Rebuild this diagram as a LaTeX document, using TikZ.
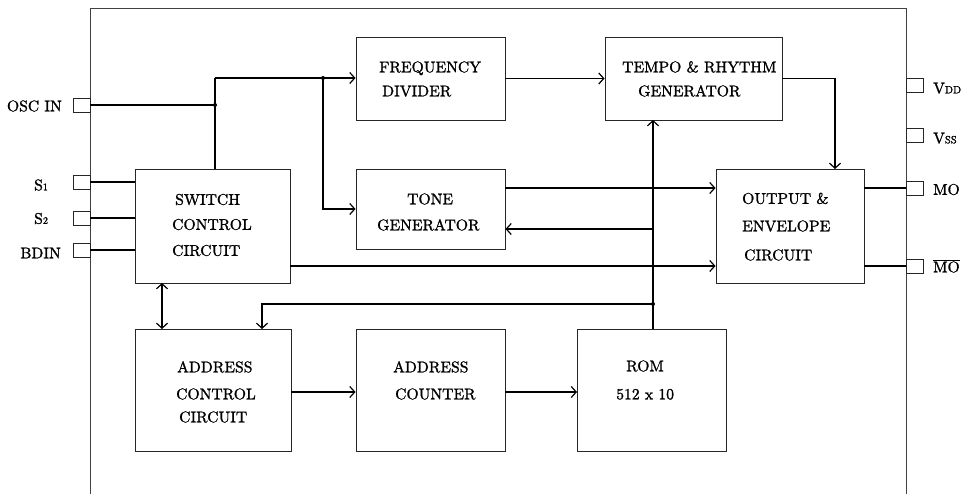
\documentclass[tikz,border=0pt]{standalone}
\usepackage{fontspec}
\usetikzlibrary{arrows.meta,calc}
\newfontfamily\dfont{lmroman10-regular}[Extension=.otf,FakeStretch=1.01,FakeBold=1.3]
\begin{document}
\begin{tikzpicture}[x=1pt,y=-1pt,
  blk/.style={draw=black!85,line width=0.9pt,inner sep=0pt},
  pinbox/.style={draw=black!85,line width=0.9pt,inner sep=0pt,minimum width=17pt,minimum height=14pt},
  txt/.style={anchor=west,inner sep=0pt,text height=10.6pt,text depth=0pt,font=\dfont\fontsize{15.5}{18}\selectfont},
  lbl/.style={inner sep=0pt,text height=10.6pt,text depth=0pt,font=\dfont\fontsize{15.5}{18}\selectfont},
  conn/.style={line width=1.2pt},
  arr/.style={conn,-{Straight Barb[length=5pt,width=11pt]}},
  darr/.style={conn,{Straight Barb[length=5pt,width=11pt]}-{Straight Barb[length=5pt,width=11pt]}},
  dot/.style={circle,fill=black,inner sep=0pt,minimum size=4pt}]
\useasboundingbox (0,0) rectangle (962,494);
\fill[white] (0,0) rectangle (962,494);
% frame
\draw[line width=1pt,black!75] (90,494) -- (90,9) -- (906,9) -- (906,494);
% blocks
\node[blk,minimum width=155pt,minimum height=114pt] (sw) at (212.5,226) {};
\node[blk,minimum width=149pt,minimum height=83pt] (fd) at (430.5,78.5) {};
\node[blk,minimum width=177pt,minimum height=83pt] (tr) at (693.5,78.5) {};
\node[blk,minimum width=149pt,minimum height=80pt] (tg) at (430.5,209) {};
\node[blk,minimum width=148pt,minimum height=114pt] (oe) at (790,226) {};
\node[blk,minimum width=156pt,minimum height=122pt] (ac) at (213,390) {};
\node[blk,minimum width=149pt,minimum height=122pt] (cnt) at (430.5,390) {};
\node[blk,minimum width=149pt,minimum height=122pt] (rom) at (652,390) {};
% block texts
\node[txt] (t1) at (379,67) {FREQUENCY};
\node[txt] (t2) at (382,91) {DIVIDER};
\node[txt] (t3) at (622,67) {TEMPO \& RHYTHM};
\node[txt] (t4) at (638,91) {GENERATOR};
\node[txt] (t5) at (175,199.5) {SWITCH};
\node[txt] (t6) at (172,224.5) {CONTROL};
\node[txt] (t7) at (172,250.5) {CIRCUIT};
\node[txt] (t8) at (407,199) {TONE};
\node[txt] (t9) at (377,225) {GENERATOR};
\node[txt] (t10) at (742,198.5) {OUTPUT \&};
\node[txt] (t11) at (742,226) {ENVELOPE};
\node[txt] (t12) at (744,255) {CIRCUIT};
\node[txt] (t13) at (177,367) {ADDRESS};
\node[txt] (t14) at (176,394) {CONTROL};
\node[txt] (t15) at (179,417) {CIRCUIT};
\node[txt] (t16) at (393,367) {ADDRESS};
\node[txt] (t17) at (395,394) {COUNTER};
\node[txt] (t18) at (626,366) {ROM};
\node[txt] (t19) at (616,394) {512 x 10};
% pins
\node[pinbox] (osc) at (81.5,105) {};
\node[pinbox] (s1) at (81.5,182) {};
\node[pinbox] (s2) at (81.5,218) {};
\node[pinbox] (bd) at (81.5,250) {};
\node[pinbox] (vdd) at (914.5,85) {};
\node[pinbox] (vss) at (914.5,135) {};
\node[pinbox] (mo) at (914.5,188) {};
\node[pinbox] (mob) at (914.5,266) {};
% pin labels
\node[lbl,anchor=east] (losc) at (62,106) {OSC IN};
\node[lbl,anchor=west] (ls1) at (34,185) {S{\fontsize{10}{12}\selectfont 1}};
\node[lbl,anchor=west] (ls2) at (34,218.5) {S{\fontsize{10}{12}\selectfont 2}};
\node[lbl,anchor=east] (lbd) at (61,253) {BDIN};
\node[lbl,anchor=west] (lvdd) at (933,88) {V{\fontsize{10.5}{12}\selectfont DD}};
\node[lbl,anchor=west] (lvss) at (933,138) {V{\fontsize{10.5}{12}\selectfont SS}};
\node[lbl,anchor=west] (lmo) at (933,189.5) {MO};
\node[lbl,anchor=west] (lmob) at (933,267) {$\overline{\hbox{\dfont\fontsize{15.5}{18}\selectfont MO}}$};
% junctions
\coordinate (j0) at (215,78);
\coordinate (j1) at (215,105);
\coordinate (j2) at (323,78);
\coordinate (j3) at (653,304);
\node[dot] (d1) at (j1) {};
\node[dot] (d2) at (j2) {};
\node[dot] (d3) at (j3) {};
% connectors
\draw[conn] (osc.east) -- (j1);
\draw[conn] (j0) -- (j0 |- sw.north);
\draw[arr] (j0) -- (j0 -| fd.west);
\draw[arr] (j2) |- (tg.west);
\draw[arr] (fd.east) -- (tr.west);
\draw[arr] (tr.east) -| (835,169);
\draw[conn] (s1.east) -- (s1.east -| sw.west);
\draw[conn] (s2.east) -- (s2.east -| sw.west);
\draw[conn] (bd.east) -- (bd.east -| sw.west);
\draw[arr] (tg.east |- 0,188) -- (oe.west |- 0,188);
\draw[arr] (653,229) -- (tg.east |- 0,229);
\draw[arr] (653,329) -- (653,120);
\draw[arr] (j3) -| (262,329);
\draw[darr] (162,283) -- (162,329);
\draw[arr] (sw.east |- 0,266) -- (oe.west |- 0,266);
\draw[conn] (oe.east |- mo) -- (mo.west);
\draw[conn] (oe.east |- mob) -- (mob.west);
\draw[arr] (ac.east |- 0,392) -- (cnt.west |- 0,392);
\draw[arr] (cnt.east |- 0,392) -- (rom.west |- 0,392);
\end{tikzpicture}
\end{document}
